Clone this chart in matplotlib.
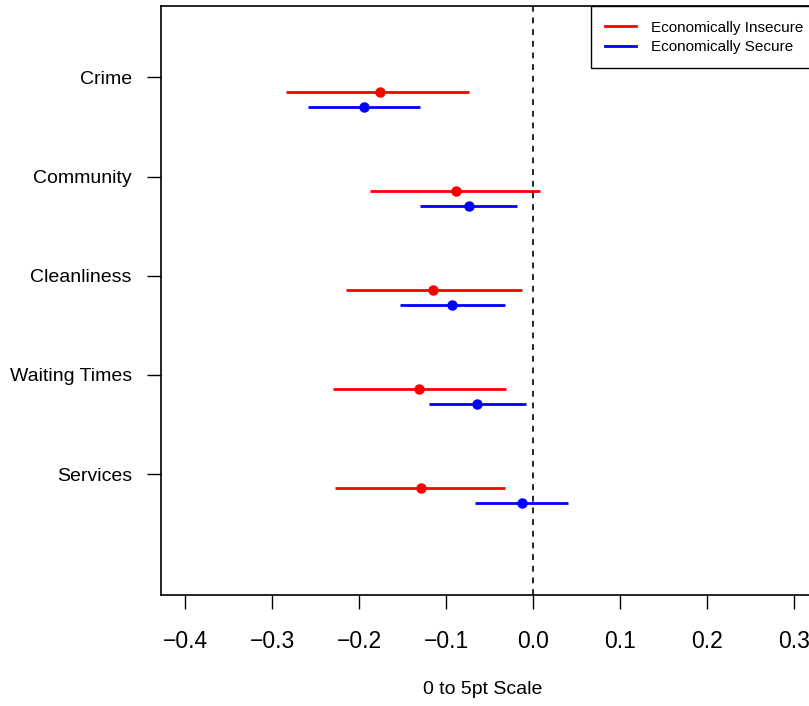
import numpy as np
import matplotlib
matplotlib.use('Agg')
import matplotlib.pyplot as plt
from matplotlib.lines import Line2D

plt.rcParams['font.family'] = ['Liberation Sans', 'DejaVu Sans']

categories = ['Crime', 'Community', 'Cleanliness', 'Waiting Times', 'Services']
cat_pos = [5, 4, 3, 2, 1]

# Economically Insecure (red)
insecure_est = [-0.176, -0.089, -0.115, -0.131, -0.129]
insecure_lo = [-0.284, -0.187, -0.215, -0.230, -0.228]
insecure_hi = [-0.074, 0.008, -0.013, -0.031, -0.032]

# Economically Secure (blue)
secure_est = [-0.194, -0.074, -0.093, -0.064, -0.013]
secure_lo = [-0.259, -0.130, -0.153, -0.120, -0.067]
secure_hi = [-0.130, -0.018, -0.032, -0.008, 0.040]

xticks = [-0.4, -0.3, -0.2, -0.1, 0.0, 0.1, 0.2, 0.3]

W, H = 809, 706
fig = plt.figure(figsize=(W / 100, H / 100), dpi=100)
ax = fig.add_axes([161 / W, 1 - 595 / H, (818 - 161) / W, (595 - 6) / H])

y = np.array(cat_pos, dtype=float)
y_red = y - 0.145
y_blue = y - 0.295

ax.hlines(y_red, insecure_lo, insecure_hi, color='red', lw=2)
ax.plot(insecure_est, y_red, 'o', color='red', ms=6.5)
ax.hlines(y_blue, secure_lo, secure_hi, color='blue', lw=2)
ax.plot(secure_est, y_blue, 'o', color='blue', ms=6.5)

ax.axvline(0, color='black', ls=(0, (3.5, 3.5)), lw=1.2)

ax.set_xlim(-0.428, 0.328)
ax.set_ylim(-0.22, 5.72)
ax.set_xticks(xticks)
ax.set_xticklabels(['\u22120.4', '\u22120.3', '\u22120.2', '\u22120.1', '0.0', '0.1', '0.2', '0.3'])
ax.set_yticks(cat_pos)
ax.set_yticklabels(categories)
ax.tick_params(axis='both', length=10, width=1, direction='out')
ax.tick_params(axis='x', pad=15, labelsize=16.5)
ax.tick_params(axis='y', pad=11, labelsize=14)
for s in ax.spines.values():
    s.set_linewidth(1.2)

fig.text(482.5 / W, 1 - 690 / H, '0 to 5pt Scale', fontsize=14, ha='center', va='center')

handles = [Line2D([], [], color='red', lw=2), Line2D([], [], color='blue', lw=2)]
leg = ax.legend(handles, ['Economically Insecure', 'Economically Secure'],
                loc='upper right', bbox_to_anchor=(1.0, 1.0), fontsize=11,
                frameon=True, fancybox=False, edgecolor='black', framealpha=1,
                handlelength=2.0, handletextpad=1.0, labelspacing=0.35,
                borderpad=0.95, borderaxespad=0)
leg.get_frame().set_linewidth(1.0)

fig.savefig('out.png', dpi=100)
